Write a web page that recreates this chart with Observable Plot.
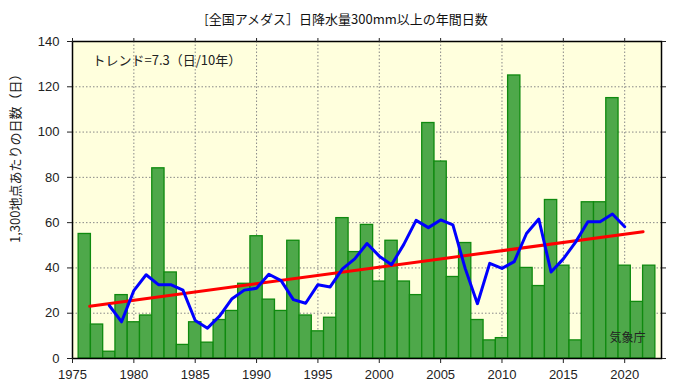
<!DOCTYPE html>
<html><head><meta charset="utf-8">
<script src="https://cdn.jsdelivr.net/npm/d3@7"></script>
<script src="https://cdn.jsdelivr.net/npm/@observablehq/plot@0.6"></script>
<style>body{margin:0;background:#fff}</style>
</head><body><div id="chart"></div>
<script>
const years = [1976,1977,1978,1979,1980,1981,1982,1983,1984,1985,1986,1987,1988,1989,1990,1991,1992,1993,1994,1995,1996,1997,1998,1999,2000,2001,2002,2003,2004,2005,2006,2007,2008,2009,2010,2011,2012,2013,2014,2015,2016,2017,2018,2019,2020,2021,2022];
const days = [55,15,3,28,16,19,84,38,6,16,7,17,21,33,54,26,21,52,19,12,18,62,47,59,34,52,34,28,104,87,36,51,17,8,9,125,40,32,70,41,8,69,69,115,41,25,41];
const maYears = [1978,1979,1980,1981,1982,1983,1984,1985,1986,1987,1988,1989,1990,1991,1992,1993,1994,1995,1996,1997,1998,1999,2000,2001,2002,2003,2004,2005,2006,2007,2008,2009,2010,2011,2012,2013,2014,2015,2016,2017,2018,2019,2020];
const maValues = [23.4,16.2,30,37,32.6,32.6,30.2,16.8,13.4,18.8,26.4,30.2,31,37.2,34.4,26,24.4,32.6,31.6,39.6,44,50.8,45.2,41.4,50.4,61,57.8,61.2,59,39.8,24.2,42,39.8,42.8,55.2,61.6,38.2,44,51.4,60.4,60.4,63.8,58.2];
const trendYears = [1976.4, 2021.5];
const trendValues = [23.1, 56.0];
const xTicks = [1975,1980,1985,1990,1995,2000,2005,2010,2015,2020];
const yTicks = [0,20,40,60,80,100,120,140];
const gridX = [1980,1985,1990,1995,2000,2005,2010,2015,2020];
const gridY = [20,40,60,80,100,120];
const titleText = "[全国アメダス］日降水量300mm以上の年間日数";
const yLabel = "1,300地点あたりの日数（日）";
const trendLabel = "トレンド=7.3（日/10年）";
const credit = "気象庁";

const bars = years.map((y, i) => ({year: y, days: days[i]}));
const ma = maYears.map((y, i) => ({year: y, v: maValues[i]}));
const trend = trendYears.map((y, i) => ({year: y, v: trendValues[i]}));

const jp = "'Noto Sans CJK JP', sans-serif";

const chart = Plot.plot({
  width: 673,
  height: 387,
  marginLeft: 72,
  marginRight: 12,
  marginTop: 41,
  marginBottom: 29,
  style: {fontFamily: "'Liberation Sans', Arial, sans-serif", fontSize: "13px", background: "#fff", color: "#222"},
  x: {domain: [1975, 2023], axis: null},
  y: {domain: [0, 140], axis: null},
  marks: [
    Plot.frame({fill: "#ffffdd"}),
    Plot.ruleX(gridX, {stroke: "#888", strokeDasharray: "1.5,2", strokeWidth: 1}),
    Plot.ruleY(gridY, {stroke: "#888", strokeDasharray: "1.5,2", strokeWidth: 1}),
    Plot.rectY(bars, {x1: d => d.year - 0.5, x2: d => d.year + 0.5, y: "days", fill: "#4ea84a", stroke: "#0f8a0f", strokeWidth: 1.3}),
    Plot.line(trend, {x: "year", y: "v", stroke: "#ff0000", strokeWidth: 3}),
    Plot.line(ma, {x: "year", y: "v", stroke: "#0000ff", strokeWidth: 3}),
    Plot.frame({stroke: "#000", strokeWidth: 1.5}),
    Plot.axisX({ticks: xTicks, anchor: "bottom", tickSize: 5, tickPadding: 6, tickFormat: d => String(d), label: null, fontSize: 13}),
    Plot.axisX({ticks: xTicks, anchor: "top", tickSize: 4, tickFormat: () => "", label: null}),
    Plot.axisY({ticks: yTicks, anchor: "left", tickSize: 5, tickPadding: 8, label: null, fontSize: 13}),
    Plot.axisY({ticks: yTicks, anchor: "right", tickSize: 4, tickFormat: () => "", label: null}),
    Plot.text([titleText], {frameAnchor: "top", dy: -27, dx: -21, fontSize: 13, fontFamily: jp, fill: "#111"}),
    Plot.text([trendLabel], {frameAnchor: "top-left", dx: 20, dy: 14, textAnchor: "start", fontSize: 13, fontFamily: jp, fill: "#222"}),
    Plot.text([credit], {frameAnchor: "bottom-right", dx: -16, dy: -17, textAnchor: "end", fontSize: 12, fontFamily: jp, fill: "#222"}),
    Plot.text([yLabel], {frameAnchor: "left", dx: -57, dy: 43, rotate: -90, fontSize: 13, fontFamily: jp, fill: "#222"})
  ]
});
document.getElementById("chart").appendChild(chart);
</script>
</body></html>
